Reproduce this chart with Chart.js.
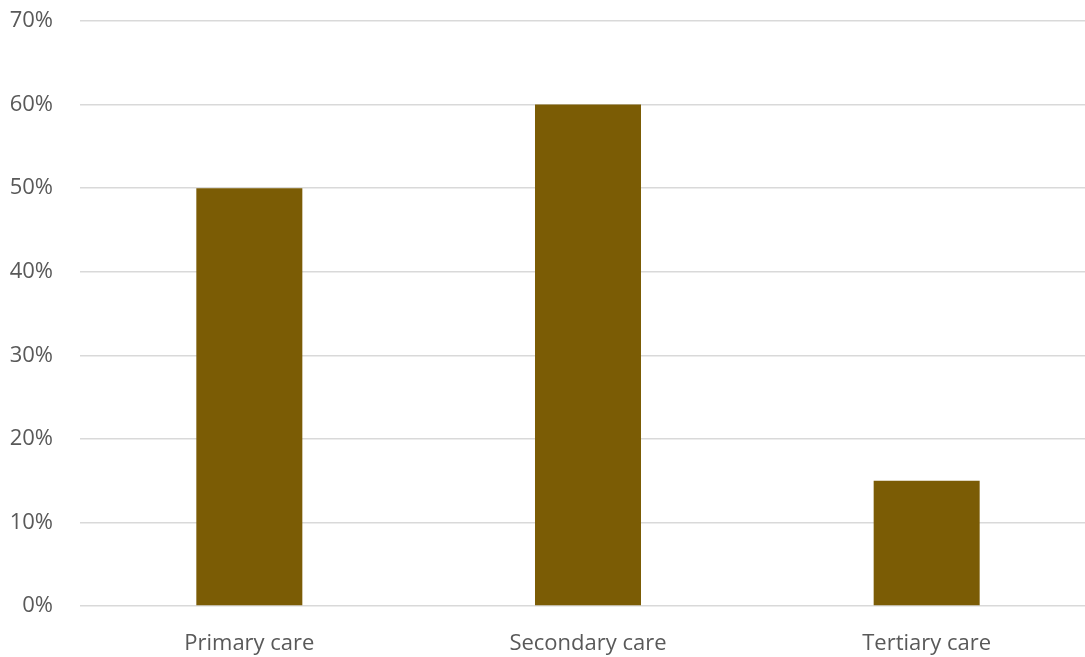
<!DOCTYPE html>
<html lang="en">
<head>
  <meta charset="UTF-8">
  <title>Care levels</title>
  <script src="https://cdn.jsdelivr.net/npm/chart.js"></script>
  <style>
    html, body { margin: 0; padding: 0; background: #fff; overflow: hidden; }
    /* plot runs slightly past the right edge of the window, as in the original */
    .wrap { width: 1096px; height: 657px; position: relative; }
  </style>
</head>
<body>
  <div class="wrap">
    <canvas id="chart"></canvas>
  </div>

  <script>
    // data
    const categories = ['Primary care', 'Secondary care', 'Tertiary care'];
    const shares = [50, 60, 15];
    const yMax = 70;
    const yStep = 10;

    const textColor = '#595959';
    const fontFamily = "'Open Sans', 'Noto Sans', sans-serif";

    new Chart(document.getElementById('chart'), {
      type: 'bar',
      data: {
        labels: categories,
        datasets: [{
          data: shares,
          backgroundColor: '#7b5c05',
          borderWidth: 0,
          barPercentage: 1,
          categoryPercentage: 0.313
        }]
      },
      options: {
        responsive: true,
        maintainAspectRatio: false,
        animation: false,
        layout: { padding: { top: 21, right: 0, left: 0, bottom: 0 } },
        plugins: {
          legend: { display: false },
          tooltip: { enabled: false }
        },
        scales: {
          x: {
            grid: { display: false, drawTicks: false },
            border: { display: false },
            ticks: {
              color: textColor,
              font: { family: fontFamily, size: 22 },
              padding: 25
            },
            afterFit: axis => {
              axis.height = 51;
              axis.paddingLeft = 0;
              axis.paddingRight = 0;
            }
          },
          y: {
            min: 0,
            max: yMax,
            grid: { color: '#d9d9d9', lineWidth: 1.5, drawTicks: false },
            border: { display: false },
            ticks: {
              stepSize: yStep,
              color: textColor,
              font: { family: fontFamily, size: 22 },
              padding: 27,
              callback: v => v + '%'
            },
            afterFit: axis => {
              axis.width = 80;
              // tick padding otherwise pushes the plot top down
              axis.paddingTop = 0;
              axis.paddingBottom = 0;
            }
          }
        }
      }
    });
  </script>
</body>
</html>
